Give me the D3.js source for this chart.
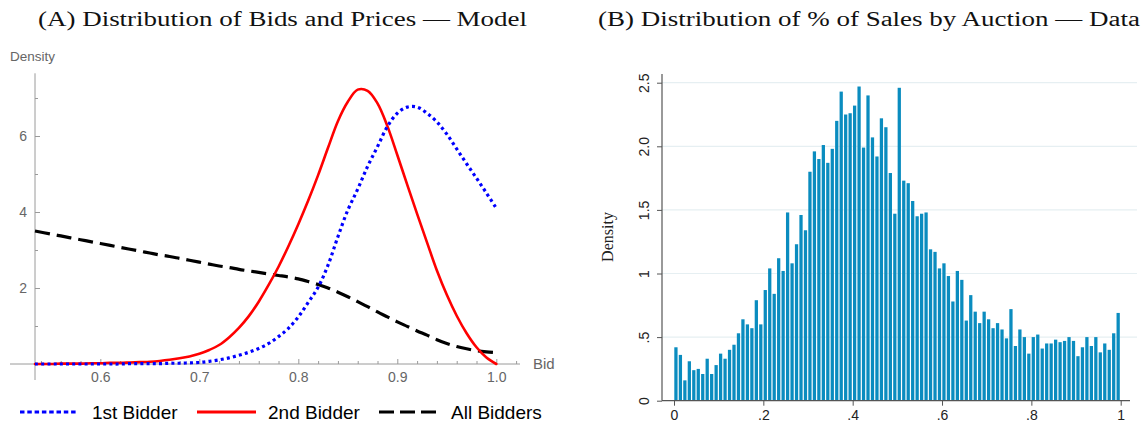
<!DOCTYPE html>
<html><head><meta charset="utf-8">
<script src="https://cdn.jsdelivr.net/npm/d3@7"></script>
<style>body{margin:0;background:#fff}svg{display:block}</style>
</head><body>
<svg id="c" width="1148" height="427"></svg>
<script>
// ---------- Panel A data (model densities) ----------
const bidGrid = [0.534,0.55,0.56,0.57,0.58,0.59,0.60,0.61,0.62,0.63,0.64,0.65,0.66,0.67,0.68,0.69,0.70,0.71,0.72,0.73,0.74,0.75,0.76,0.77,0.78,0.79,0.80,0.81,0.82,0.83,0.84,0.85,0.86,0.87,0.88,0.89,0.90,0.91,0.92,0.93,0.94,0.95,0.96,0.97,0.98,0.99,1.00];
const firstBidder = [0.00,0.00,0.00,0.00,0.00,0.00,0.00,0.00,0.00,0.01,0.01,0.01,0.01,0.02,0.02,0.03,0.04,0.07,0.11,0.16,0.23,0.31,0.41,0.54,0.72,0.94,1.24,1.62,2.02,2.60,3.35,4.05,4.60,5.20,5.72,6.25,6.60,6.76,6.76,6.60,6.37,6.05,5.66,5.27,4.89,4.50,4.10];
const secondBidder = [0.00,0.00,0.01,0.01,0.01,0.02,0.02,0.03,0.03,0.04,0.05,0.06,0.08,0.11,0.15,0.20,0.27,0.37,0.50,0.70,0.95,1.26,1.64,2.08,2.56,3.10,3.68,4.30,4.97,5.69,6.39,6.90,7.22,7.19,6.86,6.26,5.50,4.72,3.95,3.20,2.46,1.82,1.27,0.81,0.44,0.17,0.00];
const allBidders = [3.50,3.42,3.37,3.32,3.27,3.22,3.17,3.12,3.07,3.02,2.97,2.92,2.87,2.83,2.78,2.73,2.68,2.63,2.58,2.54,2.49,2.45,2.41,2.37,2.33,2.29,2.24,2.17,2.09,2.00,1.89,1.77,1.64,1.51,1.37,1.24,1.11,0.99,0.87,0.76,0.64,0.54,0.46,0.40,0.35,0.32,0.30];
const leftXTicks = [0.6,0.7,0.8,0.9,1.0];
const leftXMinorTicks = [0.54,0.56,0.58,0.62,0.64,0.66,0.68,0.72,0.74,0.76,0.78,0.82,0.84,0.86,0.88,0.92,0.94,0.96,0.98,1.02];
const leftYTicks = [2,4,6];
const leftYMinorTicks = [1,3,5,7];
const legendLabels = ["1st Bidder","2nd Bidder","All Bidders"];

// ---------- Panel B data (histogram, bins of width 0.01 from 0 to 1) ----------
const binWidth = 0.01;
const saleDensity = [0.42,0.36,0.16,0.31,0.24,0.25,0.21,0.33,0.21,0.28,
  0.37,0.33,0.40,0.44,0.53,0.64,0.60,0.57,0.79,0.60,
  0.87,1.04,0.84,1.12,1.02,1.48,1.08,1.23,1.46,1.34,
  1.80,1.96,1.90,2.01,1.87,1.98,2.20,2.43,2.25,2.26,
  2.32,2.47,1.99,2.40,2.07,1.92,2.22,2.15,1.79,1.47,
  2.46,1.73,1.71,1.57,1.45,1.47,1.48,1.19,1.17,1.04,
  1.08,0.98,0.78,1.02,0.95,0.63,0.83,0.70,0.61,0.70,
  0.64,0.57,0.61,0.56,0.49,0.72,0.43,0.56,0.50,0.37,
  0.50,0.52,0.41,0.45,0.45,0.48,0.46,0.47,0.50,0.47,
  0.35,0.42,0.50,0.43,0.50,0.38,0.45,0.40,0.53,0.69];
const rightXTicks = [0,0.2,0.4,0.6,0.8,1];
const rightYTicks = [0,0.5,1,1.5,2,2.5];
const titleA = "(A) Distribution of Bids and Prices \u2014 Model";
const titleB = "(B) Distribution of % of Sales by Auction \u2014 Data";

const svg = d3.select("#c");

// ---------- Titles ----------
svg.append("text").attr("x", 38).attr("y", 26).attr("textLength", 489).attr("lengthAdjust","spacingAndGlyphs")
  .attr("font-family","Liberation Serif, serif").attr("font-size", 20.5).attr("fill","#111").text(titleA);
svg.append("text").attr("x", 598).attr("y", 26).attr("textLength", 542).attr("lengthAdjust","spacingAndGlyphs")
  .attr("font-family","Liberation Serif, serif").attr("font-size", 20.5).attr("fill","#111").text(titleB);

// ---------- Panel A ----------
const xA = d3.scaleLinear().domain([0.534, 1.0]).range([35, 496.3]);
const yA = d3.scaleLinear().domain([0, 7.65]).range([364, 73.3]);
const gA = svg.append("g");
const axisCol = "#9a9a9a", labCol = "#666";

gA.append("line").attr("x1", 10).attr("x2", 520).attr("y1", yA(0)).attr("y2", yA(0)).attr("stroke", axisCol).attr("stroke-width", 1);
gA.append("line").attr("x1", xA(0.534)).attr("x2", xA(0.534)).attr("y1", yA(7.65)).attr("y2", 380).attr("stroke", axisCol).attr("stroke-width", 1);

const xAxA = gA.append("g").attr("transform", `translate(0,${yA(0)})`)
  .call(d3.axisBottom(xA).tickValues(leftXTicks).tickFormat(d3.format(".1f")).tickSize(-5).tickPadding(8));
const xAxAm = gA.append("g").attr("transform", `translate(0,${yA(0)})`)
  .call(d3.axisBottom(xA).tickValues(leftXMinorTicks).tickFormat("").tickSize(-3));
const yAxA = gA.append("g").attr("transform", `translate(${xA(0.534)},0)`)
  .call(d3.axisLeft(yA).tickValues(leftYTicks).tickFormat(d3.format("d")).tickSize(-5).tickPadding(8));
const yAxAm = gA.append("g").attr("transform", `translate(${xA(0.534)},0)`)
  .call(d3.axisLeft(yA).tickValues(leftYMinorTicks).tickFormat("").tickSize(-3));
[xAxA, xAxAm, yAxA, yAxAm].forEach(g => {
  g.select(".domain").remove();
  g.selectAll("line").attr("stroke", axisCol);
  g.selectAll("text").attr("fill", labCol).attr("font-family","Liberation Sans, Arial, sans-serif").attr("font-size", 14);
});

gA.append("text").attr("x", 10).attr("y", 61).attr("fill", labCol)
  .attr("font-family","Liberation Sans, Arial, sans-serif").attr("font-size", 13.5).text("Density");
gA.append("text").attr("x", 533).attr("y", 369).attr("fill", labCol)
  .attr("font-family","Liberation Sans, Arial, sans-serif").attr("font-size", 15).text("Bid");

const line = d3.line().x(d => xA(d[0])).y(d => yA(d[1])).curve(d3.curveCatmullRom.alpha(0.5));
const series = [
  {vals: allBidders, color: "#000", w: 3.2, dash: "15,7", cap: "butt"},
  {vals: secondBidder, color: "#ff0000", w: 2.6, dash: null, cap: "round"},
  {vals: firstBidder, color: "#0000ff", w: 3.2, dash: "3,3.2", cap: "butt"}
];
series.forEach(s => {
  gA.append("path").datum(bidGrid.map((b, i) => [b, s.vals[i]]))
    .attr("d", line).attr("fill", "none").attr("stroke", s.color).attr("stroke-width", s.w)
    .attr("stroke-dasharray", s.dash).attr("stroke-linecap", s.cap);
});

// legend
const legItems = [
  {label: legendLabels[0], color: "#0000ff", dash: "4.5,2.8", x1: 20, x2: 78, tx: 92},
  {label: legendLabels[1], color: "#ff0000", dash: null, x1: 197, x2: 256, tx: 268},
  {label: legendLabels[2], color: "#000", dash: "15,6", x1: 379, x2: 438, tx: 451}
];
legItems.forEach(l => {
  svg.append("line").attr("x1", l.x1).attr("x2", l.x2).attr("y1", 412).attr("y2", 412)
    .attr("stroke", l.color).attr("stroke-width", 3).attr("stroke-dasharray", l.dash);
  svg.append("text").attr("x", l.tx).attr("y", 419).attr("font-family","Liberation Sans, Arial, sans-serif")
    .attr("font-size", 19).attr("fill", "#000").text(l.label);
});

// ---------- Panel B ----------
const xB = d3.scaleLinear().domain([0, 1]).range([674, 1120.7]);
const yB = d3.scaleLinear().domain([0, 2.5]).range([400.7, 82.7]);
const gB = svg.append("g");

gB.selectAll("line.grid").data(rightYTicks.filter(t => t > 0)).enter().append("line")
  .attr("x1", 662).attr("x2", 1137).attr("y1", d => yB(d)).attr("y2", d => yB(d))
  .attr("stroke", "#e6eff2").attr("stroke-width", 1.2);

gB.selectAll("rect.bar").data(saleDensity).enter().append("rect")
  .attr("x", (d, i) => xB(i * binWidth) + 0.3)
  .attr("width", xB(binWidth) - xB(0) - 1.2)
  .attr("y", d => yB(d)).attr("height", d => yB(0) - yB(d))
  .attr("fill", "#0a8cbf");

const axB = "#555";
gB.append("line").attr("x1", 662).attr("x2", 1130).attr("y1", yB(0)).attr("y2", yB(0)).attr("stroke", axB).attr("stroke-width", 1.2);
gB.append("line").attr("x1", 662).attr("x2", 662).attr("y1", 74).attr("y2", yB(0)).attr("stroke", axB).attr("stroke-width", 1.2);

const fmtB = d => d === 0 ? "0" : d === 1 ? "1" : d3.format(".1f")(d).replace(/^0/, "");
const xAxB = gB.append("g").attr("transform", `translate(0,${yB(0)})`)
  .call(d3.axisBottom(xB).tickValues(rightXTicks).tickFormat(fmtB).tickSize(5).tickPadding(4));
const yAxB = gB.append("g").attr("transform", `translate(662,0)`)
  .call(d3.axisLeft(yB).tickValues(rightYTicks).tickFormat(fmtB).tickSize(5).tickPadding(4));
[xAxB, yAxB].forEach(g => {
  g.select(".domain").remove();
  g.selectAll("line").attr("stroke", axB).attr("stroke-width", 1);
  g.selectAll("text").attr("fill", "#222").attr("font-family","Liberation Sans, Arial, sans-serif").attr("font-size", 14);
});
yAxB.selectAll("text").attr("x", 0).attr("dy", 0).attr("text-anchor", "middle")
  .attr("transform", `translate(-13,0) rotate(-90)`);

gB.append("text").attr("transform", "translate(613,237) rotate(-90)").attr("text-anchor", "middle")
  .attr("font-family","Liberation Serif, serif").attr("font-size", 16).attr("fill", "#222").text("Density");
</script>
</body></html>
